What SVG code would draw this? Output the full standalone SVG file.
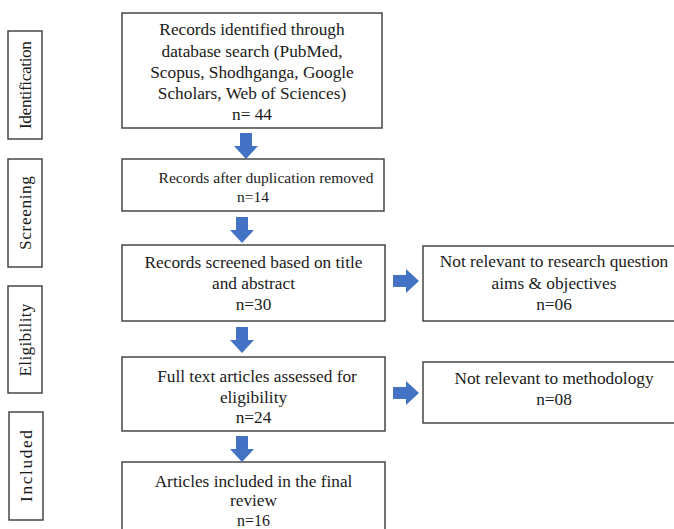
<svg xmlns="http://www.w3.org/2000/svg" width="674" height="529" viewBox="0 0 674 529">
<style>
.box{fill:#ffffff;stroke:#3a3a3a;stroke-width:1.4}
text{font-family:"Liberation Serif","Times New Roman",serif;font-size:17.3px;fill:#1a1a1a;text-anchor:middle}
.s{font-size:15.5px}
.arr{fill:#4472C4}
</style>
<defs>
<path id="down" d="M-6,0 H6 V13 H12 L0,26 L-12,13 H-6 Z"/>
</defs>
<rect width="674" height="529" fill="#ffffff"/>
<g id="stage-identification">
<rect class="box" x="8" y="31" width="34" height="108"/>
<text transform="translate(31,85) rotate(-90)" textLength="88" lengthAdjust="spacing">Identification</text>
</g>
<g id="stage-screening">
<rect class="box" x="8" y="159" width="34" height="108"/>
<text transform="translate(31,213) rotate(-90)" textLength="74" lengthAdjust="spacing">Screening</text>
</g>
<g id="stage-eligibility">
<rect class="box" x="8" y="286" width="34" height="107"/>
<text transform="translate(31,340) rotate(-90)" textLength="73" lengthAdjust="spacing">Eligibility</text>
</g>
<g id="stage-included">
<rect class="box" x="9" y="412" width="34" height="108"/>
<text transform="translate(32,466) rotate(-90)" textLength="72" lengthAdjust="spacing">Included</text>
</g>
<g id="n-identified">
<rect class="box" x="122" y="13" width="260" height="115"/>
<text x="252" y="35">Records identified through</text>
<text x="252" y="57">database search (PubMed,</text>
<text x="252" y="78">Scopus, Shodhganga, Google</text>
<text x="252" y="99">Scholars, Web of Sciences)</text>
<text x="252" y="120">n= 44</text>
</g>
<g id="n-duplicates">
<rect class="box" x="122" y="159" width="262" height="52"/>
<text class="s" x="266" y="183">Records after duplication removed</text>
<text class="s" x="253" y="202">n=14</text>
</g>
<g id="n-screened">
<rect class="box" x="122" y="245" width="263" height="76"/>
<text x="253.5" y="268">Records screened based on title</text>
<text x="253.5" y="289">and abstract</text>
<text x="253.5" y="310">n=30</text>
</g>
<g id="n-fulltext">
<rect class="box" x="122" y="357" width="263" height="74"/>
<text x="257" y="382">Full text articles assessed for</text>
<text x="253.5" y="403">eligibility</text>
<text x="253.5" y="423">n=24</text>
</g>
<g id="n-included">
<rect class="box" x="122" y="462" width="263" height="80"/>
<text x="253.5" y="487">Articles included in the final</text>
<text x="253.5" y="506">review</text>
<text x="253.5" y="526" style="font-size:16px">n=16</text>
</g>
<g id="n-excluded-aims">
<rect class="box" x="423" y="246" width="262" height="75"/>
<text x="554" y="267">Not relevant to research question</text>
<text x="554" y="289">aims &amp; objectives</text>
<text x="554" y="310">n=06</text>
</g>
<g id="n-excluded-method">
<rect class="box" x="423" y="362" width="262" height="61"/>
<text x="554" y="384">Not relevant to methodology</text>
<text x="554" y="405">n=08</text>
</g>
<g id="connectors">
<use class="arr" href="#down" transform="translate(246,133)"/>
<use class="arr" href="#down" transform="translate(242,217)"/>
<use class="arr" href="#down" transform="translate(242,327)"/>
<use class="arr" href="#down" transform="translate(242,436)"/>
<use class="arr" href="#down" transform="translate(393,281) rotate(-90)"/>
<use class="arr" href="#down" transform="translate(393,393) rotate(-90)"/>
</g>
</svg>
